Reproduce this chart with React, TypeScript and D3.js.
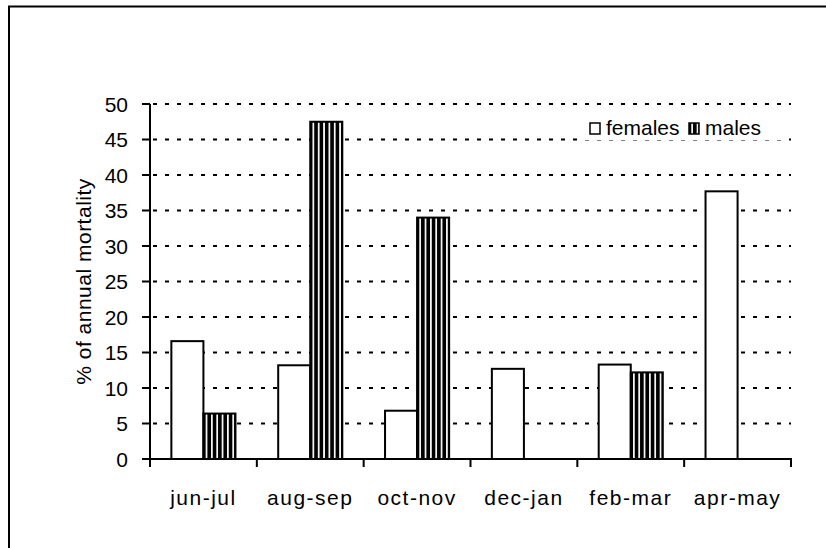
import React from 'react';
import * as d3 from 'd3';

const categories = ['jun-jul', 'aug-sep', 'oct-nov', 'dec-jan', 'feb-mar', 'apr-may'];
const females = [16.6, 13.2, 6.8, 12.7, 13.3, 37.7];
const males = [6.4, 47.5, 34.0, 0, 12.2, 0];
const series = ['females', 'males'];
const yTicks = [0, 5, 10, 15, 20, 25, 30, 35, 40, 45, 50];

const width = 826;
const height = 548;
const margin = {top: 104, right: 35, bottom: 89, left: 150};
const font = 'Liberation Sans, Arial, sans-serif';

export default function App() {
    const x = d3.scaleBand()
        .domain(categories)
        .range([margin.left, width - margin.right])
        .padding(0);
    const step = x.step();
    const inner = d3.scaleBand()
        .domain(series)
        .range([step * 0.2, step * 0.8]);
    const y = d3.scaleLinear()
        .domain([0, 50])
        .range([height - margin.bottom, margin.top]);

    const bw = inner.bandwidth();
    const period = bw / 6;
    const baseY = y(0);

    const rows = categories.map((c, i) => ({cat: c, females: females[i], males: males[i]}));

    return (
        <svg width={width} height={height}
             style={{position: 'absolute', left: 0, top: 0, background: '#fff'}}
             fontFamily={font}>
            <defs>
                <pattern id="vstripes" patternUnits="userSpaceOnUse"
                         x={x(categories[0]) + inner('males')} y={0}
                         width={period} height={10}>
                    <rect width={period} height={10} fill="#000"/>
                    <rect x={period / 2 - 0.85} width={1.7} height={10} fill="#fff"/>
                </pattern>
            </defs>
            <rect x={0} y={0} width={width} height={height} fill="#fff"/>
            {/* chart frame, runs off the right and bottom edges */}
            <rect x={9} y={6.5} width={width + 20} height={height + 20}
                  fill="none" stroke="#000" strokeWidth={2}/>

            {/* dotted gridlines */}
            {yTicks.filter(t => t > 0).map(t => (
                <line key={'g' + t} x1={margin.left} x2={width - margin.right}
                      y1={y(t)} y2={y(t)} stroke="#000" strokeWidth={2}
                      strokeDasharray="4 8" strokeDashoffset={-3}/>
            ))}

            {/* legend */}
            <g>
                <rect x={585} y={115} width={200} height={25} fill="#fff"/>
                <rect x={590} y={123} width={10} height={11} fill="#fff" stroke="#000" strokeWidth={1.5}/>
                <text x={606} y={135} fontSize={21}>females</text>
                <rect x={689} y={123} width={10} height={11} fill="url(#vstripes)" stroke="#000" strokeWidth={1.5}/>
                <text x={705} y={135} fontSize={21}>males</text>
            </g>

            {/* bars */}
            {rows.map(d => (
                <g key={d.cat} transform={`translate(${x(d.cat)},0)`}>
                    {series.filter(s => d[s] > 0).map(s => (
                        <rect key={s} x={inner(s)} y={y(d[s])} width={bw}
                              height={baseY - y(d[s])}
                              fill={s === 'males' ? 'url(#vstripes)' : '#fff'}
                              stroke="#000" strokeWidth={2}/>
                    ))}
                </g>
            ))}

            {/* y axis */}
            <line x1={margin.left} x2={margin.left} y1={y(50)} y2={baseY} stroke="#000" strokeWidth={2}/>
            {yTicks.map(t => (
                <g key={'y' + t}>
                    <line x1={margin.left - 8} x2={margin.left} y1={y(t)} y2={y(t)} stroke="#000" strokeWidth={2}/>
                    <text x={margin.left - 22} y={y(t)} dy="0.36em" textAnchor="end" fontSize={21}>{t}</text>
                </g>
            ))}
            <text transform={`translate(91,${(y(0) + y(50)) / 2}) rotate(-90)`}
                  textAnchor="middle" fontSize={21} letterSpacing={0.5}>% of annual mortality</text>

            {/* x axis */}
            <line x1={margin.left - 1} x2={width - margin.right + 1} y1={baseY} y2={baseY} stroke="#000" strokeWidth={2}/>
            {d3.range(categories.length + 1).map(i => (
                <line key={'xt' + i} x1={margin.left + i * step} x2={margin.left + i * step}
                      y1={baseY} y2={baseY + 8} stroke="#000" strokeWidth={2}/>
            ))}
            {categories.map(c => (
                <text key={'xl' + c} x={x(c) + step / 2} y={505} textAnchor="middle"
                      fontSize={21} letterSpacing={1.5}>{c}</text>
            ))}
        </svg>
    );
}
